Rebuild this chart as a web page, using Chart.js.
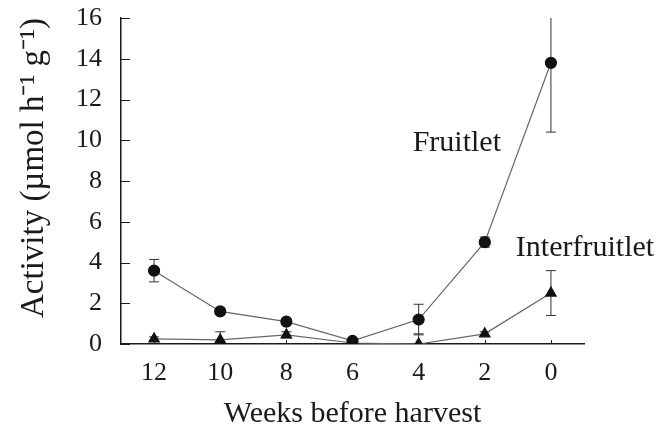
<!DOCTYPE html>
<html>
<head>
<meta charset="utf-8">
<script src="https://cdn.jsdelivr.net/npm/chart.js@4"></script>
<style>
  html, body { margin: 0; background: #fff; }
  #wrap { width: 661px; height: 439px; }
</style>
</head>
<body>
<div id="wrap"><canvas id="activity-chart"></canvas></div>
<script>
// weeks before harvest
const weeks = ["12", "10", "8", "6", "4", "2", "0"];
const fruitlet = [3.6, 1.6, 1.1, 0.15, 1.2, 5.0, 13.8];
const fruitletErr = [0.55, 0.1, 0.1, 0.1, 0.75, 0.25, 3.4];
const interfruitlet = [0.25, 0.2, 0.45, 0.05, 0.0, 0.5, 2.5];
const interfruitletErr = [0.1, 0.4, 0.15, 0.05, 0.5, 0.1, 1.1];
const yMax = 16;
const yStep = 2;

// series labels sit next to the curves: [category index, value]
const seriesLabels = [
  { text: "Fruitlet", at: [3.91, 9.85] },
  { text: "Interfruitlet", at: [5.47, 4.7] }
];

const serif = "'Liberation Serif', 'Times New Roman', serif";
const ink = "#1a1a1a";

const errorBars = {
  id: "errorBars",
  beforeDatasetsDraw(chart) {
    const { ctx, chartArea, scales: { x, y } } = chart;
    ctx.save();
    ctx.beginPath();
    ctx.rect(chartArea.left, chartArea.top, chartArea.width, chartArea.height);
    ctx.clip();
    ctx.strokeStyle = "#333";
    ctx.lineWidth = 1;
    chart.data.datasets.forEach(ds => {
      ds.data.forEach((v, i) => {
        const e = ds.errors[i];
        const px = x.getPixelForValue(i);
        const top = y.getPixelForValue(v + e);
        const bot = y.getPixelForValue(Math.max(v - e, 0));
        ctx.beginPath();
        ctx.moveTo(px, top);
        ctx.lineTo(px, bot);
        if (v + e <= yMax) {
          ctx.moveTo(px - 5, top);
          ctx.lineTo(px + 5, top);
        }
        if (v - e >= 0) {
          ctx.moveTo(px - 5, bot);
          ctx.lineTo(px + 5, bot);
        }
        ctx.stroke();
      });
    });
    ctx.restore();
  }
};

const innerTicks = {
  id: "innerTicks",
  afterDraw(chart) {
    const { ctx, chartArea, scales: { x, y } } = chart;
    ctx.save();
    ctx.strokeStyle = ink;
    ctx.lineWidth = 1;
    ctx.beginPath();
    y.ticks.forEach(t => {
      const py = Math.round(y.getPixelForValue(t.value)) + 0.5;
      ctx.moveTo(chartArea.left, py);
      ctx.lineTo(chartArea.left + 9, py);
    });
    weeks.forEach((w, i) => {
      const px = Math.round(x.getPixelForValue(i)) + 0.5;
      ctx.moveTo(px, chartArea.bottom);
      ctx.lineTo(px, chartArea.bottom - 4);
    });
    ctx.stroke();

    ctx.fillStyle = ink;
    ctx.font = "30px " + serif;
    ctx.textBaseline = "middle";
    ctx.textAlign = "left";
    seriesLabels.forEach(l => {
      ctx.fillText(l.text, x.getPixelForValue(l.at[0]), y.getPixelForValue(l.at[1]));
    });
    ctx.restore();
  }
};

function createActivityChart(name) {
  const ctx = document.getElementById(name).getContext("2d");

  new Chart(ctx, {
    type: "line",
    data: {
      labels: weeks,
      datasets: [
        {
          label: "Fruitlet",
          data: fruitlet,
          errors: fruitletErr,
          borderColor: "#666",
          borderWidth: 1.2,
          pointStyle: "circle",
          pointRadius: 5.5,
          pointBackgroundColor: "#111",
          pointBorderColor: "#111",
          tension: 0
        },
        {
          label: "Interfruitlet",
          data: interfruitlet,
          errors: interfruitletErr,
          borderColor: "#666",
          borderWidth: 1.2,
          pointStyle: "triangle",
          pointRadius: 6,
          pointBackgroundColor: "#111",
          pointBorderColor: "#111",
          tension: 0
        }
      ]
    },
    options: {
      responsive: true,
      maintainAspectRatio: false,
      animation: false,
      layout: { padding: { top: 18, right: 77, left: 0, bottom: 0 } },
      plugins: {
        legend: { display: false },
        tooltip: { enabled: false }
      },
      scales: {
        x: {
          offset: true,
          grid: { display: false, drawTicks: false },
          border: { display: true, color: ink, width: 1.5 },
          ticks: { color: ink, padding: 14, font: { family: serif, size: 26 } },
          title: {
            display: true,
            text: "Weeks before harvest",
            color: ink,
            padding: { top: 0, bottom: 7 },
            font: { family: serif, size: 30 }
          },
          afterFit: s => {
            s.height = 95;
            s.paddingLeft = 0;
            s.paddingRight = 0;
          }
        },
        y: {
          min: 0,
          max: yMax,
          grid: { display: false, drawTicks: false },
          border: { display: true, color: ink, width: 1.5 },
          ticks: { stepSize: yStep, color: ink, padding: 19, font: { family: serif, size: 26 } },
          title: {
            display: true,
            text: "Activity (µmol h⁻¹ g⁻¹)",
            align: "end",
            color: ink,
            padding: { top: 15, bottom: 0 },
            font: { family: serif, size: 33 }
          },
          afterFit: s => {
            s.width = 121;
            s.paddingTop = 0;
            s.paddingBottom = 0;
          }
        }
      }
    },
    plugins: [errorBars, innerTicks]
  });
}

createActivityChart("activity-chart");
</script>
</body>
</html>
